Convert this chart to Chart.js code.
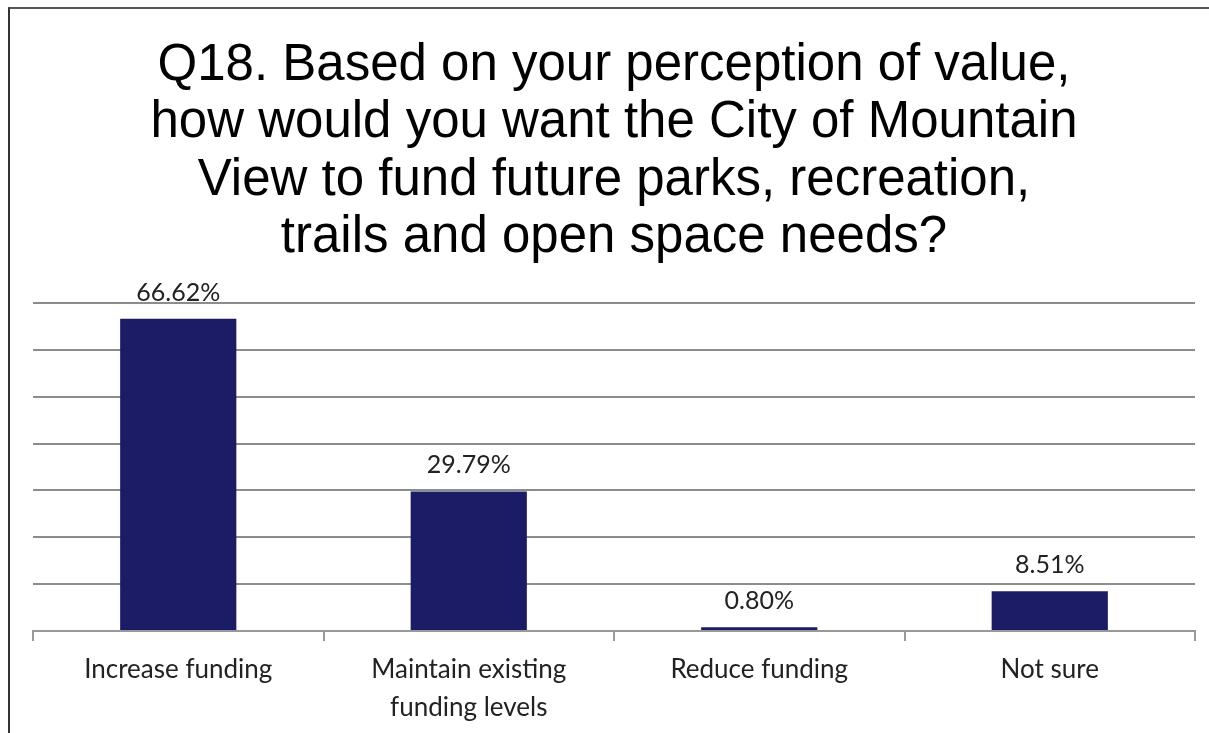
<!DOCTYPE html>
<html lang="en">
<head>
    <meta charset="UTF-8">
    <title>Q18 funding</title>
    <script src="https://cdn.jsdelivr.net/npm/chart.js"></script>
    <style>
        body {
            margin: 0;
            background: #ffffff;
            width: 1209px;
            height: 733px;
            overflow: hidden;
        }

        .frame {
            position: absolute;
            left: 8px;
            top: 7px;
            width: 1201px;
            height: 726px;
            border-top: 2px solid #555;
            border-left: 2px solid #333;
            box-sizing: border-box;
            overflow: hidden;
        }

        #chart {
            display: block;
        }
    </style>
</head>
<body>
    <div class="frame">
        <canvas id="chart" width="1199" height="728"></canvas>
    </div>

    <script>
        const titleLines = [
            'Q18. Based on your perception of value,',
            'how would you want the City of Mountain',
            'View to fund future parks, recreation,',
            'trails and open space needs?'
        ];
        const categories = ['Increase funding', ['Maintain existing', 'funding levels'], 'Reduce funding', 'Not sure'];
        const percents = [66.62, 29.79, 0.80, 8.51];
        const yTicks = [0, 10, 20, 30, 40, 50, 60, 70];

        const fontFamily = 'Lato, "Open Sans", sans-serif';

        // value labels above each bar
        const valueLabels = {
            id: 'valueLabels',
            afterDatasetsDraw(chart) {
                const ctx = chart.ctx;
                const meta = chart.getDatasetMeta(0);
                ctx.save();
                ctx.font = '25px ' + fontFamily;
                ctx.fillStyle = '#222';
                ctx.textAlign = 'center';
                ctx.textBaseline = 'middle';
                meta.data.forEach((bar, i) => {
                    ctx.fillText(percents[i].toFixed(2) + '%', bar.x, bar.y - 26);
                });
                ctx.restore();
            }
        };

        new Chart(document.getElementById('chart').getContext('2d'), {
            type: 'bar',
            data: {
                labels: categories,
                datasets: [{
                    data: percents,
                    backgroundColor: '#1c1b66',
                    borderWidth: 0,
                    categoryPercentage: 0.8,
                    barPercentage: 0.5
                }]
            },
            options: {
                responsive: false,
                animation: false,
                layout: { padding: { left: 23, right: 14, top: 0, bottom: 0 } },
                plugins: {
                    legend: { display: false },
                    tooltip: { enabled: false },
                    title: {
                        display: true,
                        text: titleLines,
                        color: '#000',
                        font: { family: '"Liberation Sans", Arial, sans-serif', size: 51, weight: 'normal', lineHeight: 1.127 },
                        padding: { top: 28, bottom: 36 }
                    }
                },
                scales: {
                    x: {
                        grid: {
                            offset: true,
                            drawOnChartArea: false,
                            drawTicks: true,
                            tickLength: 10,
                            color: '#999',
                            lineWidth: 2
                        },
                        border: { display: true, color: '#999', width: 2 },
                        ticks: {
                            color: '#222',
                            font: { family: fontFamily, size: 26, lineHeight: 1.46 },
                            padding: 10,
                            maxRotation: 0
                        }
                    },
                    y: {
                        min: 0,
                        max: 70,
                        afterBuildTicks(axis) {
                            axis.ticks = yTicks.map(v => ({ value: v }));
                        },
                        grid: {
                            color: '#8c8c8c',
                            lineWidth: 2,
                            drawTicks: false
                        },
                        border: { display: false },
                        ticks: { display: false }
                    }
                }
            },
            plugins: [valueLabels]
        });
    </script>
</body>
</html>
